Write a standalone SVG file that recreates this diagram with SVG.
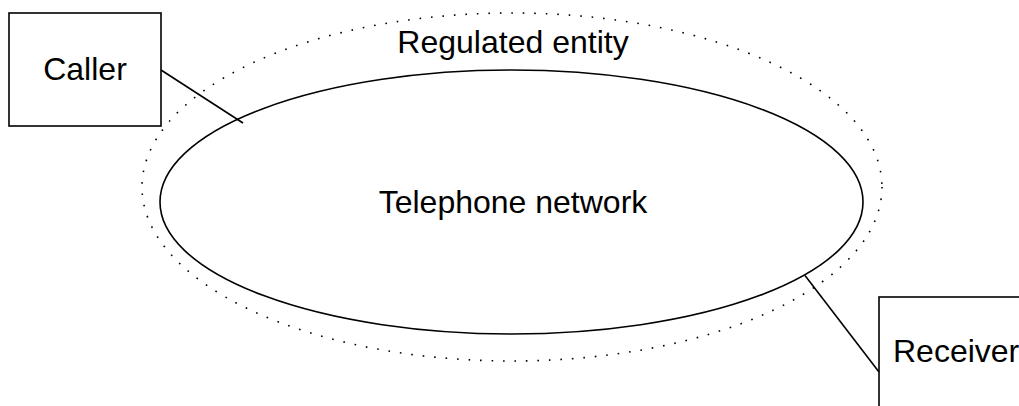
<svg xmlns="http://www.w3.org/2000/svg" width="1019" height="406" viewBox="0 0 1019 406">
<style>
.shape{fill:none;stroke:#000;stroke-width:1.6}
.dotted{fill:none;stroke:#000;stroke-width:1.6;stroke-dasharray:1.6 9.9}
.box{fill:#fff;stroke:#000;stroke-width:1.6}
.lbl{font-family:"Liberation Sans",Arial,sans-serif;font-size:32px;fill:#000}
.conn{stroke:#000;stroke-width:1.6;fill:none}
</style>
<rect width="1019" height="406" fill="#fff"/>
<g id="regulated-entity">
<ellipse class="dotted" cx="512" cy="187" rx="370" ry="174"/>
<text class="lbl" x="513" y="53" text-anchor="middle">Regulated entity</text>
</g>
<g id="telephone-network">
<ellipse class="shape" cx="511.5" cy="202" rx="351.5" ry="132"/>
<text class="lbl" x="513" y="213" text-anchor="middle">Telephone network</text>
</g>
<g id="caller">
<rect class="box" x="9" y="13" width="152" height="113"/>
<text class="lbl" x="85" y="80" text-anchor="middle">Caller</text>
</g>
<g id="receiver">
<rect class="box" x="879" y="297" width="200" height="200"/>
<text class="lbl" x="893" y="362">Receiver</text>
</g>
<g id="connectors">
<line class="conn" x1="161" y1="70" x2="243" y2="123"/>
<line class="conn" x1="805" y1="275.5" x2="879" y2="372"/>
</g>
</svg>
